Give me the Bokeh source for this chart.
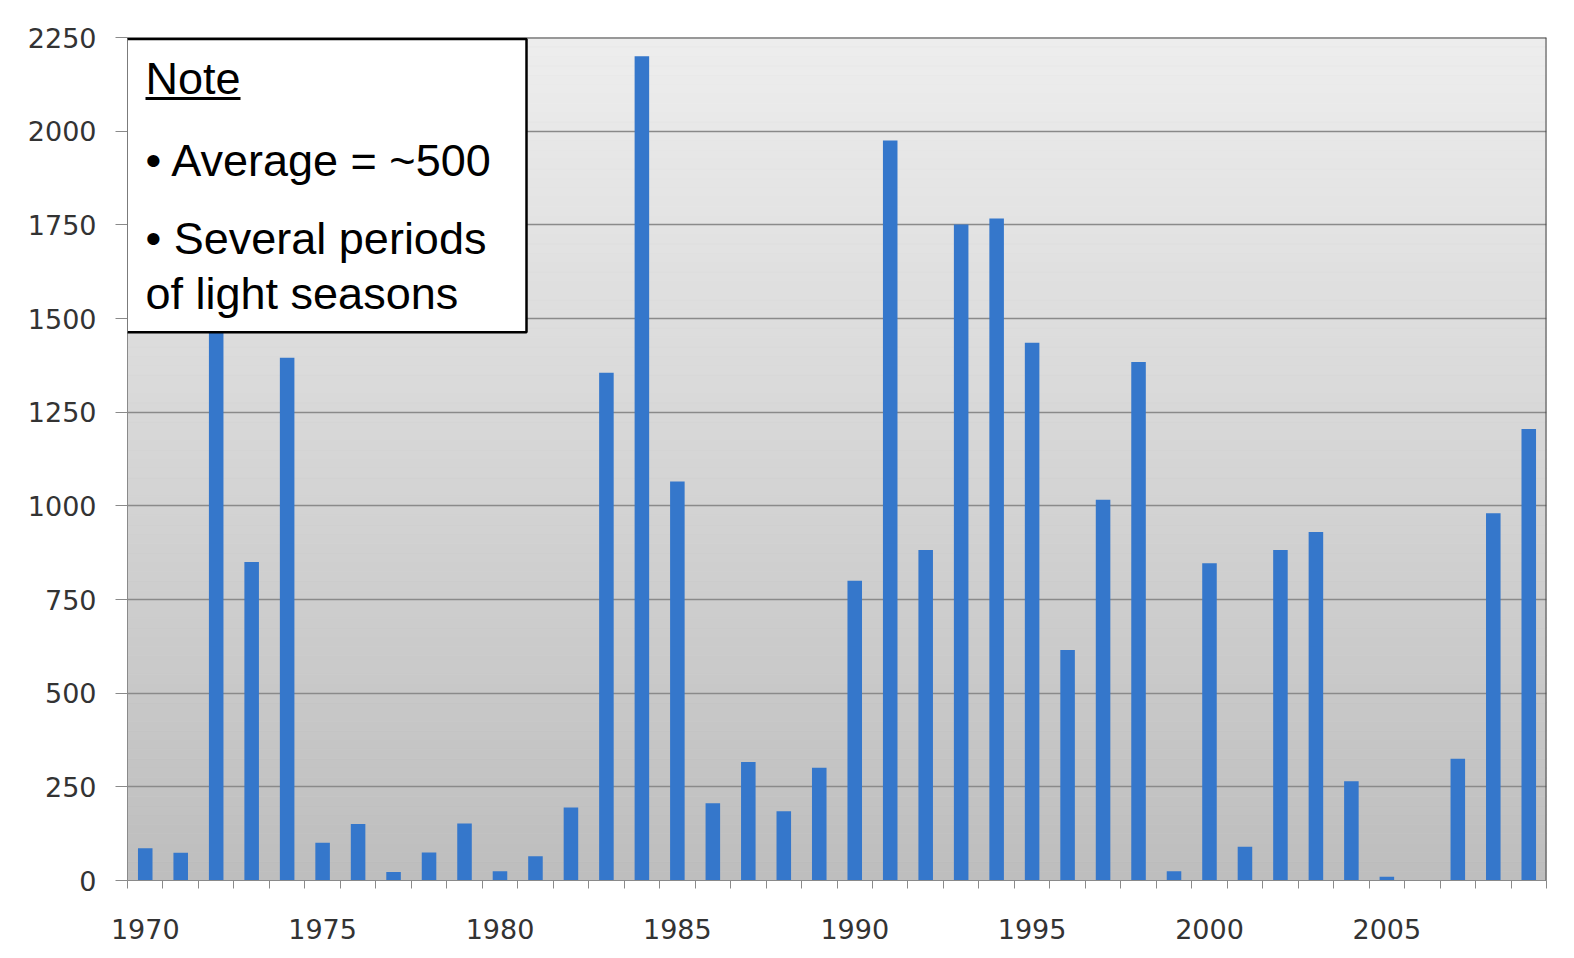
import numpy as np
from bokeh.plotting import figure
from bokeh.models import (Range1d, FixedTicker, Span, BoxAnnotation, Label,
                          CustomJSTickFormatter)
from bokeh.embed import file_html
from bokeh.resources import INLINE

years = list(range(1970, 2010))
values = [86, 74, 1550, 850, 1395, 101, 151, 23, 75, 152,
          25, 65, 195, 1355, 2200, 1065, 206, 316, 185, 301,
          800, 1975, 882, 1751, 1767, 1435, 615, 1016, 1384, 25,
          847, 90, 882, 930, 265, 10, 0, 325, 980, 1205]
y_ticks = [0, 250, 500, 750, 1000, 1250, 1500, 1750, 2000, 2250]
x_label_years = [1970, 1975, 1980, 1985, 1990, 1995, 2000, 2005]
note_title = "Note"
note_lines = ["\u2022 Average = ~500", "\u2022 Several periods", "of light seasons"]

x0, x1 = years[0] - 0.5, years[-1] + 0.5
y0, y1 = 0, 2250

FL, FT, FR, FB = 127, 37, 1546, 880.5  # frame edges in page pixels

p = figure(width=1566, height=950, output_backend="svg", toolbar_location=None,
           x_range=Range1d(x0, x1), y_range=Range1d(y0, y1),
           min_border_left=127, min_border_right=20, min_border_top=37,
           min_border_bottom=70)
p.background_fill_color = "#d8d8d8"
p.border_fill_color = "white"
p.outline_line_color = None

# gradient background of the plot area
n_bands = 90
edges = np.linspace(y0, y1, n_bands + 1)
c_top = np.array([0xee, 0xee, 0xee])
c_bot = np.array([0xbe, 0xbe, 0xbe])
cols = []
for i in range(n_bands):
    t = (i + 0.5) / n_bands
    c = (c_bot * (1 - t) + c_top * t).astype(int)
    cols.append("#%02x%02x%02x" % tuple(c))
p.quad(left=x0, right=x1, bottom=edges[:-1], top=edges[1:], fill_color=cols,
       line_color=cols, line_width=0.5, level="image")

p.xgrid.grid_line_color = None
p.ygrid.ticker = FixedTicker(ticks=y_ticks)
p.ygrid.grid_line_color = "#8a8a8a"
p.ygrid.grid_line_width = 1.5
p.ygrid.level = "underlay"

# bars
p.vbar(x=years, top=values, width=0.41, fill_color="#3577cb", line_color=None)

# axes
p.yaxis.ticker = FixedTicker(ticks=y_ticks)
p.yaxis.major_label_text_font = "DejaVu Sans"
p.yaxis.major_label_text_font_size = "27px"
p.yaxis.major_label_text_color = "#333333"
p.yaxis.major_tick_out = 12
p.yaxis.major_tick_in = 0
p.yaxis.minor_tick_line_color = None
p.yaxis.major_tick_line_color = "#8a8a8a"
p.yaxis.axis_line_color = "#8a8a8a"
p.yaxis.major_label_standoff = 19

p.xaxis.ticker = FixedTicker(ticks=x_label_years,
                             minor_ticks=[y - 0.5 for y in years] + [years[-1] + 0.5])
p.xaxis.major_tick_out = 0
p.xaxis.major_tick_in = 0
p.xaxis.minor_tick_out = 8
p.xaxis.minor_tick_in = 0
p.xaxis.minor_tick_line_color = "#8a8a8a"
p.xaxis.axis_line_color = "#8a8a8a"
p.xaxis.major_label_text_font = "DejaVu Sans"
p.xaxis.major_label_text_font_size = "27px"
p.xaxis.major_label_text_color = "#333333"
p.xaxis.major_label_standoff = 30
p.xaxis.formatter = CustomJSTickFormatter(code="return tick.toFixed(0);")

# top and right frame edges
p.add_layout(Span(location=y1, dimension="width", line_color="#454545", line_width=2))
p.add_layout(Span(location=x1, dimension="height", line_color="#454545", line_width=2))

# note box (positions given in page pixels, converted to data units)
px_x = (x1 - x0) / (FR - FL)
px_y = (y1 - y0) / (FB - FT)
def dx(px):
    return x0 + (px - FL) * px_x
def dy(py):
    return (FB - py) * px_y

p.add_layout(BoxAnnotation(left=dx(126), right=dx(526), top=dy(38.5), bottom=dy(332),
                           fill_color="white", fill_alpha=1.0, line_color="black",
                           line_width=2.5, line_alpha=1.0))
p.add_layout(Label(x=dx(145), y=dy(78), text=note_title, text_font="Liberation Sans",
                   text_font_size="45px", text_color="black",
                   text_baseline="alphabetic"))
p.add_layout(BoxAnnotation(left=dx(145), right=dx(240), top=dy(96.5), bottom=dy(99.5),
                           fill_color="black", fill_alpha=1.0, line_color=None))
for txt, base in zip(note_lines, [160, 238, 293]):
    p.add_layout(Label(x=dx(145), y=dy(base), text=txt, text_font="Liberation Sans",
                       text_font_size="45px", text_color="black",
                       text_baseline="alphabetic"))

open("out.html", "w").write(file_html(p, INLINE))
